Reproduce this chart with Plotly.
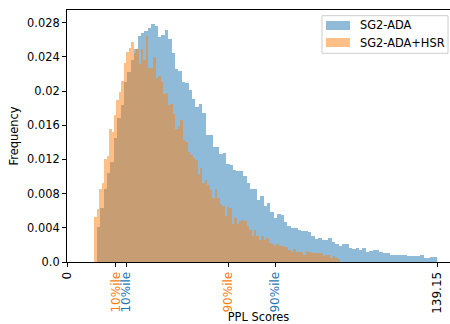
import numpy as np
import plotly.graph_objects as go

# ---- data ----
blue_name = "SG2-ADA"
orange_name = "SG2-ADA+HSR"
blue_min, blue_max = 11.16, 139.15
orange_min, orange_max = 10.26, 102.6

blue_heights = [
    0.0041, 0.0063, 0.0085, 0.0104, 0.0117, 0.0145, 0.0168, 0.0184, 0.0211, 0.0222,
    0.0236, 0.0249, 0.0265, 0.0268, 0.0271, 0.0274, 0.0279, 0.0276, 0.0263, 0.0266,
    0.0272, 0.0261, 0.0245, 0.0226, 0.0224, 0.0211, 0.0210, 0.0201, 0.0191, 0.0181,
    0.0185, 0.0175, 0.0149, 0.0149, 0.0135, 0.0135, 0.0126, 0.0128, 0.0115, 0.0114,
    0.0108, 0.0106, 0.0106, 0.0101, 0.0092, 0.0086, 0.0085, 0.0073, 0.0077, 0.0066,
    0.0069, 0.0059, 0.0052, 0.0056, 0.0055, 0.0047, 0.0042, 0.0040, 0.0040, 0.0037,
    0.0036, 0.0036, 0.0035, 0.0031, 0.0027, 0.0028, 0.0026, 0.0026, 0.0028, 0.0024,
    0.0021, 0.0019, 0.0021, 0.0021, 0.0016, 0.0015, 0.0016, 0.0014, 0.0016, 0.0012,
    0.0013, 0.0014, 0.0014, 0.0012, 0.0011, 0.0010, 0.0008, 0.0008, 0.0008, 0.0008,
    0.0008, 0.0007, 0.0007, 0.0007, 0.0007, 0.0008, 0.0005, 0.0005, 0.0006, 0.0006,
]

orange_heights = [
    0.0053, 0.0062, 0.0086, 0.0092, 0.0121, 0.0124, 0.0156, 0.0152, 0.0172, 0.0190,
    0.0199, 0.0212, 0.0233, 0.0246, 0.0251, 0.0257, 0.0245, 0.0249, 0.0232, 0.0249,
    0.0236, 0.0264, 0.0227, 0.0227, 0.0240, 0.0215, 0.0218, 0.0211, 0.0197, 0.0198,
    0.0184, 0.0185, 0.0173, 0.0156, 0.0159, 0.0166, 0.0143, 0.0141, 0.0129, 0.0125,
    0.0122, 0.0119, 0.0103, 0.0110, 0.0092, 0.0096, 0.0090, 0.0084, 0.0075, 0.0085,
    0.0075, 0.0068, 0.0066, 0.0054, 0.0064, 0.0063, 0.0045, 0.0052, 0.0044, 0.0048,
    0.0049, 0.0048, 0.0042, 0.0037, 0.0030, 0.0037, 0.0030, 0.0026, 0.0030, 0.0026,
    0.0028, 0.0022, 0.0021, 0.0019, 0.0021, 0.0019, 0.0019, 0.0017, 0.0017, 0.0014,
    0.0012, 0.0015, 0.0012, 0.0012, 0.0012, 0.0008, 0.0013, 0.0012, 0.0010, 0.0010,
    0.0010, 0.0010, 0.0010, 0.0007, 0.0008, 0.0008, 0.0005, 0.0007, 0.0005, 0.0004,
]

tick_vals = [0, 18.29, 22.17, 60.63, 78.16, 139.15]
tick_labels = ["0", "10%ile", "10%ile", "90%ile", "90%ile", "139.15"]
tick_colors = ["black", "#ff7f0e", "#1f77b4", "#ff7f0e", "#1f77b4", "black"]

y_tick_vals = [0, 0.004, 0.008, 0.012, 0.016, 0.02, 0.024, 0.028]
y_tick_labels = ["0.0", "0.004", "0.008", "0.012", "0.016", "0.02", "0.024", "0.028"]


def bins(lo, hi, n):
    edges = np.linspace(lo, hi, n + 1)
    return (edges[:-1] + edges[1:]) / 2, (hi - lo) / n


bx, bw = bins(blue_min, blue_max, len(blue_heights))
ox, ow = bins(orange_min, orange_max, len(orange_heights))

FONT = "DejaVu Sans"
FS = 11.4
BLUE_A = "rgba(31,119,180,0.5)"
ORANGE_A = "rgba(255,127,14,0.5)"

fig = go.Figure()
fig.add_trace(go.Bar(x=bx, y=blue_heights, width=bw, name=blue_name, showlegend=False,
                     marker=dict(color=BLUE_A, line=dict(width=0))))
fig.add_trace(go.Bar(x=ox, y=orange_heights, width=ow, name=orange_name, showlegend=False,
                     marker=dict(color=ORANGE_A, line=dict(width=0))))

ticktext = [f"<span style='color:{c}'>{t}</span>" for t, c in zip(tick_labels, tick_colors)]

# ---- matplotlib-style legend (frame, wide patches, labels) in paper coords ----
leg_box = dict(x0=0.6658, x1=0.9948, y0=0.8282, y1=0.9774)
patch_x = (0.6762, 0.7389)
rows = [(blue_name, BLUE_A, 0.9385), (orange_name, ORANGE_A, 0.8710)]
patch_half_h = 0.0179
text_x = 0.7598

shapes = [dict(type="rect", xref="paper", yref="paper", layer="above",
               fillcolor="rgba(255,255,255,0.8)", line=dict(color="#cccccc", width=1),
               **leg_box)]
annotations = []
for name, col, yc in rows:
    shapes.append(dict(type="rect", xref="paper", yref="paper", layer="above",
                       x0=patch_x[0], x1=patch_x[1], y0=yc - patch_half_h, y1=yc + patch_half_h,
                       fillcolor=col, line=dict(width=0)))
    annotations.append(dict(text=name, xref="paper", yref="paper", x=text_x, y=yc,
                            xanchor="left", yanchor="middle", showarrow=False,
                            font=dict(family=FONT, size=FS, color="black")))

fig.update_layout(
    width=450, height=324,
    margin=dict(l=67, r=0, t=10, b=62, pad=0),
    barmode="overlay", bargap=0,
    plot_bgcolor="white", paper_bgcolor="white",
    font=dict(family=FONT, size=FS, color="black"),
    showlegend=False,
    shapes=shapes, annotations=annotations,
    xaxis=dict(range=[0, 143.92], tickmode="array", tickvals=tick_vals, ticktext=ticktext,
               tickangle=-90, ticks="outside", ticklen=4, tickwidth=1, tickcolor="black",
               showline=True, linecolor="black", linewidth=1, mirror=True,
               showgrid=False, zeroline=False, automargin=False,
               tickfont=dict(family=FONT, size=12),
               title=dict(text="PPL Scores", font=dict(family=FONT, size=FS), standoff=3)),
    yaxis=dict(range=[0, 0.0295], tickmode="array", tickvals=y_tick_vals, ticktext=y_tick_labels,
               ticks="outside", ticklen=4, tickwidth=1, tickcolor="black",
               showline=True, linecolor="black", linewidth=1, mirror=False,
               showgrid=False, zeroline=False, automargin=False,
               title=dict(text="Frequency", font=dict(family=FONT, size=FS), standoff=6)),
)

fig.write_html("out.html")
